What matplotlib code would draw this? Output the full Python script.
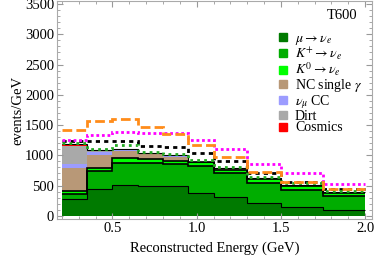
import matplotlib
matplotlib.use("Agg")
import matplotlib.pyplot as plt
from matplotlib.lines import Line2D
from matplotlib.ticker import MultipleLocator
import numpy as np

plt.rcParams['font.family'] = ['Liberation Serif', 'DejaVu Serif']
plt.rcParams['mathtext.fontset'] = 'stix'

# bin edges (GeV)
edges = [0.2, 0.35, 0.5, 0.65, 0.8, 0.95, 1.1, 1.3, 1.5, 1.75, 2.0]

# stacked components (events/GeV)
mu_nue = [280, 440, 505, 495, 485, 378, 304, 205, 138, 94]
kp_nue = [85, 300, 373, 371, 370, 449, 396, 330, 287, 236]
k0_nue = [45, 55, 82, 66, 55, 56, 55, 67, 65, 53]
nc_gamma = [380, 205, 110, 83, 65, 5, 20, 10, 10, 7]
numu_cc = [70, 58, 27, 13, 13, 2, 4, 2, 2, 2]
dirt = [300, 22, 7, 4, 6, 2, 2, 2, 2, 2]
cosmics = [30, 10, 4, 4, 6, 2, 2, 2, 2, 2]

# overlay lines
black_dot = [1230, 1230, 1230, 1150, 1140, 1031, 909, 710, 555, 450]
green_dot = [1200, 1110, 1165, 1048, 1025, 915, 810, 645, 535, 410]
magenta_dot = [1256, 1334, 1384, 1367, 1365, 1253, 1097, 858, 700, 525]
orange_dash = [1420, 1572, 1595, 1465, 1358, 1168, 975, 719, 562, 436]

labels = [r'$\mu \rightarrow \nu_e$', r'$K^{+} \rightarrow \nu_e$', r'$K^{0} \rightarrow \nu_e$',
          r'NC single $\gamma$', r'$\nu_\mu$ CC', 'Dirt', 'Cosmics']
colors = ['#007a00', '#00ad00', '#00ff00', '#b89877', '#9c9cff', '#a9a9a9', '#ff0000']

fig = plt.figure(figsize=(3.74, 2.63), dpi=100)
ax = fig.add_axes([0.152, 0.167, 0.843, 0.829])

components = [mu_nue, kp_nue, k0_nue, nc_gamma, numu_cc, dirt, cosmics]
bottom = np.zeros(len(mu_nue))
tops = []
for vals, c in zip(components, colors):
    top = bottom + np.array(vals)
    ax.stairs(top, edges, baseline=bottom, fill=True, color=c, lw=0)
    tops.append(top)
    bottom = top

# black outlines on the neutrino layers and the stack total
ax.stairs(tops[0], edges, baseline=None, color='black', lw=0.8)
ax.stairs(tops[1], edges, baseline=None, color='black', lw=1.2)
ax.stairs(tops[2], edges, baseline=None, color='black', lw=1.2)
ax.stairs(tops[6], edges, baseline=None, color='black', lw=0.8)

ax.stairs(black_dot, edges, baseline=None, color='black', lw=2, linestyle=(0, (1.5, 1.5)))
ax.stairs(green_dot, edges, baseline=None, color='#22aa22', lw=2, linestyle=(0, (1, 1.5)))
ax.stairs(magenta_dot, edges, baseline=None, color='#ff00ff', lw=2, linestyle=(0, (1, 1)))
ax.stairs(orange_dash, edges, baseline=None, color='#ff8c1a', lw=2, linestyle=(0, (3.5, 1.5)))

ax.set_xlim(0.170, 2.0415)
ax.set_ylim(-55, 3550)
ax.xaxis.set_major_locator(MultipleLocator(0.5))
ax.xaxis.set_minor_locator(MultipleLocator(0.1))
ax.yaxis.set_major_locator(MultipleLocator(500))
ax.yaxis.set_minor_locator(MultipleLocator(100))
ax.tick_params(which='both', direction='in', top=True, right=True, color='#999999',
               labelsize=10.5, pad=2)
ax.tick_params(which='major', length=4)
ax.tick_params(which='minor', length=2)
ax.set_xticks([0.5, 1.0, 1.5, 2.0])
ax.set_xticklabels(['0.5', '1.0', '1.5', '2.0'])
for s in ax.spines.values():
    s.set_color('#aaaaaa')

ax.set_xlabel('Reconstructed Energy (GeV)', fontsize=10.5, labelpad=5)
ax.set_ylabel('events/GeV', fontsize=10.5, labelpad=0)

ax.text(0.953, 0.936, 'T600', transform=ax.transAxes, ha='right', va='center', fontsize=10.5)

handles = [Line2D([], [], marker='s', linestyle='', color=c, markersize=6) for c in colors]
ax.legend(handles, labels, loc='upper left', bbox_to_anchor=(0.700, 0.86), frameon=False,
          fontsize=10, borderpad=0, borderaxespad=0, handlelength=0.8, handletextpad=0.45,
          labelspacing=-0.08)

fig.savefig('out.png', dpi=100)
